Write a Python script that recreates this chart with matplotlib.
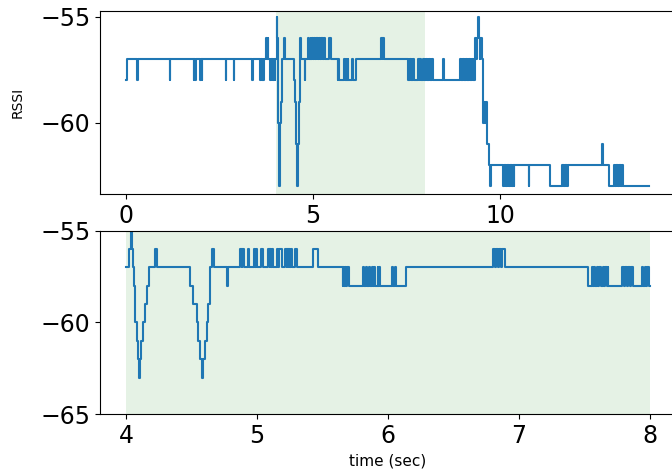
import matplotlib
matplotlib.use("Agg")
import matplotlib.pyplot as plt

# RSSI change points (time in s, level in dBm), drawn as a step trace
time_s = [
    0.00, 0.02, 0.30, 0.32, 1.16, 1.18, 1.80, 1.82, 1.84, 1.86,
    1.98, 2.00, 2.02, 2.04, 2.66, 2.68, 2.87, 2.89, 3.36, 3.38,
    3.58, 3.60, 3.63, 3.65, 3.67, 3.69, 3.74, 3.76, 3.78, 3.80,
    3.85, 3.87, 3.89, 3.91, 3.93, 3.95, 3.97, 3.99,
    # first dip
    4.00, 4.02, 4.035, 4.045, 4.05, 4.056, 4.064, 4.069, 4.081, 4.089,
    4.095, 4.107, 4.115, 4.125, 4.14, 4.158, 4.178, 4.221, 4.239,
    # second dip
    4.489, 4.509, 4.54, 4.552, 4.565, 4.578, 4.59, 4.603, 4.616, 4.628,
    4.641, 4.652, 4.672, 4.768, 4.781,
    4.870, 4.882, 4.888, 4.900, 4.934, 4.941, 4.977, 4.985, 4.99, 4.997,
    5.028, 5.048, 5.086, 5.095, 5.10, 5.11, 5.115, 5.125, 5.15, 5.16, 5.165, 5.19,
    5.214, 5.225, 5.23, 5.24, 5.245, 5.255, 5.26, 5.265, 5.29, 5.308,
    5.43, 5.468,
    5.654, 5.66, 5.667, 5.675, 5.682, 5.69, 5.70,
    5.812, 5.82, 5.835, 5.842, 5.855, 5.862, 5.875, 5.882, 5.895, 5.90,
    5.92, 5.927, 5.935, 5.942,
    6.028, 6.036, 6.05, 6.058, 6.137,
    6.804, 6.815, 6.822, 6.84, 6.85, 6.862, 6.87, 6.893,
    7.529, 7.555, 7.565, 7.575, 7.585, 7.595, 7.605, 7.615, 7.625, 7.64,
    7.65, 7.66, 7.672, 7.678, 7.684,
    7.79, 7.80, 7.81, 7.825, 7.835, 7.845, 7.855, 7.873,
    7.937, 7.95, 7.96, 7.972, 7.98, 7.99, 8.00,
    8.02, 8.04, 8.06, 8.08, 8.10, 8.12, 8.14, 8.16, 8.18, 8.20,
    8.47, 8.49,
    8.93, 8.95, 8.97, 8.99, 9.01, 9.03, 9.05, 9.07, 9.09, 9.11,
    9.13, 9.15, 9.17, 9.19, 9.21, 9.23, 9.25, 9.27, 9.29, 9.31,
    # drop
    9.33, 9.35, 9.37, 9.40, 9.43, 9.45, 9.47, 9.50, 9.53, 9.55,
    9.57, 9.59, 9.61, 9.64, 9.69, 9.74, 9.76,
    10.08, 10.10, 10.12, 10.14, 10.16, 10.18, 10.20, 10.22, 10.24, 10.26,
    10.28, 10.30, 10.32, 10.34, 10.36, 10.38,
    10.76, 10.78,
    11.34, 11.65, 11.67, 11.69, 11.71, 11.73, 11.75, 11.77, 11.79, 11.81,
    12.72, 12.74, 12.90,
    13.05, 13.07, 13.09, 13.11, 13.13, 13.15, 13.17, 13.19, 13.21, 13.23,
    13.25, 13.28, 13.98,
]
rssi_dbm = [
    -58, -57, -58, -57, -58, -57, -58, -57, -58, -57,
    -58, -57, -58, -57, -58, -57, -58, -57, -58, -57,
    -58, -57, -58, -57, -58, -57, -56, -57, -56, -57,
    -58, -57, -58, -57, -58, -57, -58, -57,
    -57, -56, -55, -56, -57, -58, -59, -60, -61, -62,
    -63, -62, -61, -60, -59, -58, -57, -56, -57,
    -58, -59, -60, -61, -62, -63, -62, -61, -60, -59,
    -57, -56, -57, -58, -57,
    -56, -57, -56, -57, -56, -57, -56, -57, -56, -57,
    -56, -57, -56, -57, -56, -57, -56, -57, -56, -57, -56, -57,
    -56, -57, -56, -57, -56, -57, -56, -57, -56, -57,
    -56, -57,
    -58, -57, -58, -57, -58, -57, -58,
    -57, -58, -57, -58, -57, -58, -57, -58, -57, -58,
    -57, -58, -57, -58,
    -57, -58, -57, -58, -57,
    -56, -57, -56, -57, -56, -57, -56, -57,
    -58, -57, -58, -57, -58, -57, -58, -57, -58, -57,
    -58, -57, -58, -57, -58,
    -57, -58, -57, -58, -57, -58, -57, -58,
    -57, -58, -57, -58, -57, -58, -58,
    -57, -58, -57, -58, -57, -58, -57, -58, -57, -58,
    -57, -58,
    -57, -58, -57, -58, -57, -58, -57, -58, -57, -58,
    -57, -58, -57, -58, -57, -58, -57, -58, -57, -58,
    -56, -57, -56, -55, -56, -57, -56, -57, -59, -60,
    -59, -60, -59, -61, -62, -63, -62,
    -63, -62, -63, -62, -63, -62, -63, -62, -63, -62,
    -63, -62, -63, -62, -63, -62,
    -63, -62,
    -63, -62, -63, -62, -63, -62, -63, -62, -63, -62,
    -61, -62, -63,
    -62, -63, -62, -63, -62, -63, -62, -63, -62, -63,
    -62, -63, -63,
]

window = (4, 8)
top_xticks = [0, 5, 10]
bottom_xticks = [4, 5, 6, 7, 8]
bottom_yticks = [-65, -60, -55]

# zoomed slice for the lower panel
zoom_t = [t for t in time_s if window[0] <= t <= window[1]]
zoom_v = [v for t, v in zip(time_s, rssi_dbm) if window[0] <= t <= window[1]]

fig = plt.figure(figsize=(6.72, 4.70), dpi=100)
ax1 = fig.add_axes([100 / 672, 1 - 194 / 470, 576 / 672, 183.3 / 470])
ax2 = fig.add_axes([100 / 672, 1 - 414.3 / 470, 576 / 672, 183.6 / 470])

ax1.axvspan(window[0], window[1], color='green', alpha=0.1, lw=0)
ax1.step(time_s, rssi_dbm, where='post', color='tab:blue', lw=1.5)
ax2.axvspan(window[0], window[1], color='green', alpha=0.1, lw=0)
ax2.step(zoom_t, zoom_v, where='post', color='tab:blue', lw=1.5)

for ax in (ax1, ax2):
    ax.tick_params(labelsize=17)

ax1.set_xlim(-0.7, 14.7)
ax1.set_ylim(-63.36, -54.72)
ax1.set_xticks(top_xticks)
ax1.set_yticks([-60, -55])
ax1.set_ylabel('RSSI', fontsize=10, labelpad=11)

ax2.set_xlim(3.8, 8.2)
ax2.set_ylim(-65, -55)
ax2.set_xticks(bottom_xticks)
ax2.set_yticks(bottom_yticks)
ax2.set_xlabel('time (sec)', fontsize=11)

fig.savefig('out.png', dpi=100)
